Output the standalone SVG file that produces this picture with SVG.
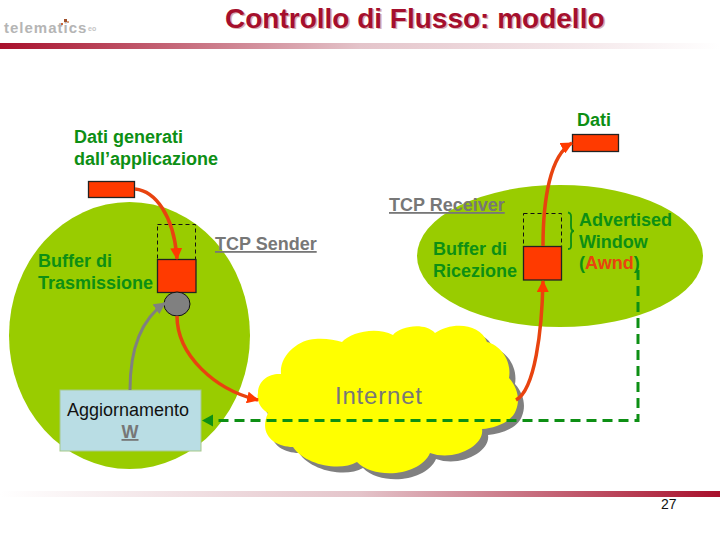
<svg xmlns="http://www.w3.org/2000/svg" width="720" height="540" viewBox="0 0 720 540">
<style>
text{font-family:"Liberation Sans",Arial,sans-serif}
.g{fill:#0d8f14;font-weight:bold;font-size:18px}
.t{fill:#777;font-weight:bold;font-size:18px;text-decoration:underline}
.red{fill:#ff3a00;stroke:#222;stroke-width:1.3}
.dash{fill:none;stroke:#111;stroke-width:1;stroke-dasharray:4 3}
.ra{fill:none;stroke:#e8430f;stroke-width:3.500}
.title{font-size:28px;font-weight:bold}
</style>
<defs>
<linearGradient id="h1"><stop offset="0" stop-color="#a8102c"/><stop offset="0.5" stop-color="#e4c4ca"/><stop offset="1" stop-color="#fff"/></linearGradient>
<linearGradient id="h2"><stop offset="0" stop-color="#fff"/><stop offset="0.5" stop-color="#e4c4ca"/><stop offset="1" stop-color="#a8102c"/></linearGradient>
<marker id="mr" viewBox="0 0 12 12" refX="11" refY="6" markerWidth="12" markerHeight="12" markerUnits="userSpaceOnUse" orient="auto"><path d="M0 0L12 6L0 12Z" fill="#ff3a00"/></marker>
<marker id="mg" viewBox="0 0 12 12" refX="11" refY="6" markerWidth="12" markerHeight="12" markerUnits="userSpaceOnUse" orient="auto"><path d="M0 0L12 6L0 12Z" fill="#808080"/></marker>
<path id="cloud" d="M258 393C258 380 270 373 281 374C279 355 300 339 315 339C325 338 335 340 342 342C350 333 375 326 393 335C400 326 425 322 435 333C450 322 480 322 487 342C500 345 512 360 509 378C518 388 520 400 516 410C512 422 495 428 482 429C485 445 455 462 430 453C420 476 375 480 357 462C340 472 305 465 293 447C275 447 258 435 268 413C262 410 256 402 258 393Z"/>
</defs>
<g id="header">
<rect x="0" y="43" width="720" height="6" fill="url(#h1)"/>
<rect x="0" y="491" width="720" height="6" fill="url(#h2)"/>
<text x="4" y="33" font-size="15" font-weight="bold" fill="#b5b5b5" letter-spacing="1">telematics</text>
<text x="88" y="31" font-size="7" font-weight="bold" fill="#c4c4c4">eo</text>
<rect x="64" y="19" width="3" height="3" fill="#a0522d"/>
<rect x="67" y="21" width="2" height="2" fill="#d8a080"/>
<rect x="61" y="23" width="2" height="2" fill="#c8663c"/>
<text class="title" x="226.500" y="29" fill="#d9b0b5">Controllo di Flusso: modello</text>
<text class="title" x="225" y="28" fill="#a50f2d">Controllo di Flusso: modello</text>
<text x="661" y="509" font-size="14" fill="#111">27</text>
</g>
<g id="tcp-sender">
<ellipse cx="129.500" cy="335.500" rx="120.500" ry="133.500" fill="#99cc00"/>
<text class="t" x="215" y="250">TCP Sender</text>
<text class="g" x="38" y="267">Buffer di</text>
<text class="g" x="38" y="289">Trasmissione</text>
</g>
<g id="tcp-receiver">
<ellipse cx="560" cy="256" rx="143" ry="71" fill="#99cc00"/>
<text class="t" x="389" y="211">TCP Receiver</text>
<text class="g" x="433" y="255">Buffer di</text>
<text class="g" x="433" y="277">Ricezione</text>
</g>
<g id="internet">
<use href="#cloud" x="6" y="6" fill="#808080"/>
<use href="#cloud" fill="#ffff00"/>
<text x="335" y="404" font-size="24" fill="#777" letter-spacing="0.800">Internet</text>
</g>
<g id="send-buffer">
<rect class="dash" x="157.500" y="224.500" width="38" height="35"/>
<rect class="red" x="157.500" y="259.500" width="38.500" height="33"/>
<ellipse cx="177" cy="304" rx="13" ry="12" fill="#808080" stroke="#111" stroke-width="1"/>
</g>
<g id="recv-buffer">
<rect class="dash" x="523.500" y="213.500" width="38" height="33"/>
<rect class="red" x="523.500" y="246.500" width="38" height="33.500"/>
</g>
<g id="data-in"><rect class="red" x="88.500" y="181.500" width="46" height="16"/>
<text class="g" x="74" y="143">Dati generati</text>
<text class="g" x="74" y="165">dall’applicazione</text></g>
<g id="data-out"><rect class="red" x="572.500" y="134.500" width="46" height="17"/>
<text class="g" x="577" y="126">Dati</text></g>
<g id="window">
<path d="M568 212.500C572 213 571 217 571 222V226C571 230 572 231 574 231C572 231 571 232 571 236V241C571 246 572 249 568 249" fill="none" stroke="#0d8f14" stroke-width="1.800"/>
<text class="g" x="579" y="226">Advertised</text>
<text class="g" x="579" y="248">Window</text>
<text class="g" x="579" y="269">(<tspan fill="#e8430f">Awnd</tspan>)</text>
</g>
<g id="update">
<rect x="60" y="390" width="141" height="61" fill="#b9dde4" stroke="#a5c98a" stroke-width="1"/>
<text x="67" y="415.500" font-size="18" fill="#111">Aggiornamento</text>
<text x="130" y="438" font-size="18" fill="#777" font-weight="bold" text-anchor="middle" text-decoration="underline">W</text>
</g>
<g id="connectors">
<path class="ra" d="M135 189C155 191 174 215 177 259" marker-end="url(#mr)"/>
<path class="ra" d="M543 246C543 200 550 155 572 143" marker-end="url(#mr)"/>
<path class="ra" d="M516 400C535 390 542 330 543 281" marker-end="url(#mr)"/>
<path class="ra" d="M177 316C177 355 215 390 258 400" marker-end="url(#mr)"/>
<path d="M130 390C130 350 140 320 165 303" fill="none" stroke="#808080" stroke-width="3" marker-end="url(#mg)"/>
<path d="M638 270V420.500H212" fill="none" stroke="#0d8f14" stroke-width="3" stroke-dasharray="10 6"/>
<path d="M202 420.500L213 414.500V426.500Z" fill="#0d8f14"/>
</g>
</svg>
